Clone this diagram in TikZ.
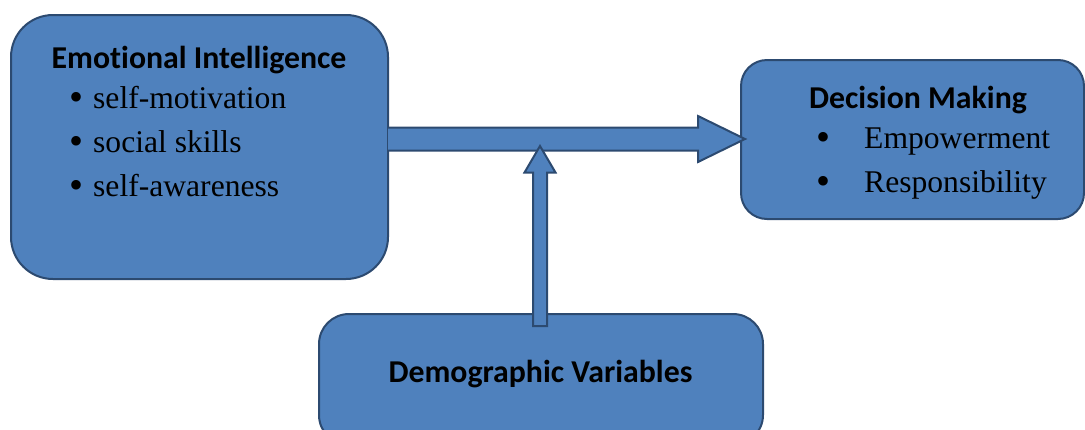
\documentclass[tikz,border=0pt]{standalone}
\usepackage{fontspec}
\setmainfont{Liberation Serif}
\newfontfamily\headfont[Ligatures={NoCommon,NoDiscretionary,NoRare}]{Carlito}
\begin{document}
\begin{tikzpicture}[x=1pt,y=-1pt,
  box/.style={draw=boxline,fill=boxfill,line width=2pt,rounded corners=#1},
  arrowshape/.style={draw=boxline,fill=boxfill,line width=2pt,line join=miter},
  head/.style={font=\headfont\bfseries\fontsize{31.8}{32}\selectfont,anchor=base,inner sep=0pt},
  item/.style={font=\fontsize{31.6}{32}\selectfont,anchor=base west,inner sep=0pt},
  bul/.style={font=\fontsize{40}{40}\selectfont,anchor=base,inner sep=0pt}]
\definecolor{boxfill}{HTML}{4F81BD}
\definecolor{boxline}{HTML}{2C4A70}
\useasboundingbox (0,0) rectangle (1085,429);
% boxes
\draw[box=42] (11,15) rectangle (388,279);
\coordinate (eiE) at (388,139);
\draw[box=26] (741,60) rectangle (1084,219);
\coordinate (dmW) at (745,139);
\draw[box=30] (319,314) rectangle (763,445);
\coordinate (dvN) at (540,326);
% texts
\node[head] (eih) at (199,68) {Emot\kern0pt ional Intelligence};
\node[bul] (b1) at (77,110) {•};
\node[item] (i1) at (93,108) {self-motivation};
\node[bul] (b2) at (77,154) {•};
\node[item] (i2) at (93,152) {social skills};
\node[bul] (b3) at (77,198) {•};
\node[item] (i3) at (93,196) {self-awareness};
\node[head] (dmh) at (918,108) {Decision Making};
\node[bul] (b4) at (823,150) {•};
\node[item] (i4) at (864,148) {Empowerment};
\node[bul] (b5) at (823,194) {•};
\node[item] (i5) at (864,192) {Responsibility};
\node[head] (dvh) at (540.5,382) {Demographic Variables};
% horizontal arrow
\draw[arrowshape] (eiE |- 0,127.5) -- (698,127.5) -- (698,116) -- (dmW) -- (698,162) -- (698,150.5) -- (eiE |- 0,150.5);
% vertical arrow
\draw[arrowshape] (533,0 |- dvN) -- (533,172.5) -- (524.5,172.5) -- (540,146) -- (555.5,172.5) -- (547,172.5) -- (547,0 |- dvN) -- cycle;
\end{tikzpicture}
\end{document}
